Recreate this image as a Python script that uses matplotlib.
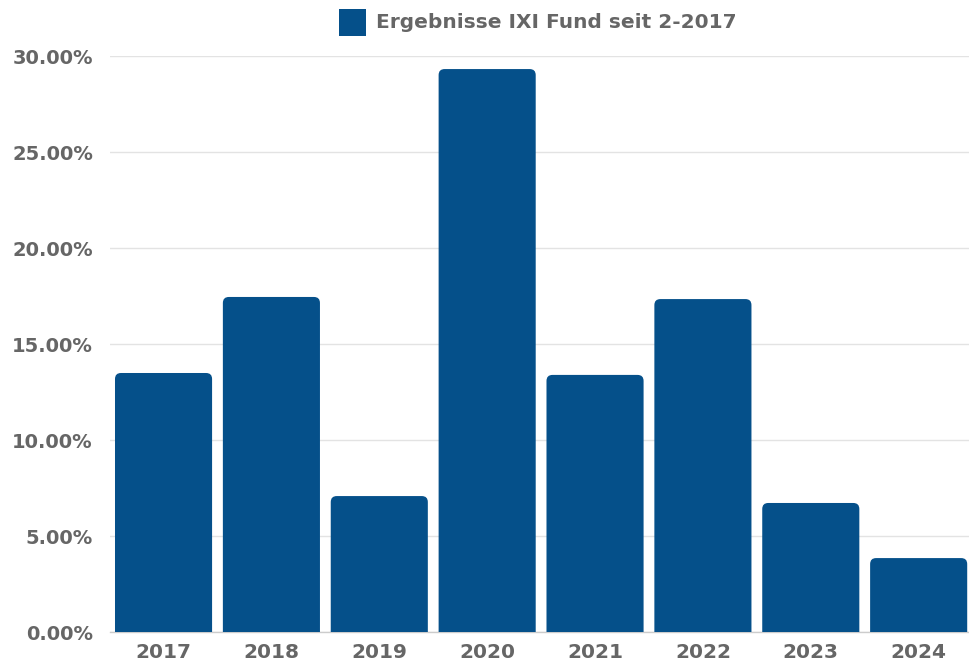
import matplotlib
matplotlib.use("Agg")
import matplotlib.pyplot as plt
from matplotlib.patches import FancyBboxPatch, Rectangle

# Data
years = ["2017", "2018", "2019", "2020", "2021", "2022", "2023", "2024"]
returns = [13.49, 17.45, 7.08, 29.32, 13.39, 17.34, 6.72, 3.85]
yticks = [0, 5, 10, 15, 20, 25, 30]
legend_label = "Ergebnisse IXI Fund seit 2-2017"

bar_color = "#05508a"
text_color = "#666666"
grid_color = "#e3e3e3"

plt.rcParams['font.family'] = ['DejaVu Sans']

fig = plt.figure(figsize=(9.7, 6.66), dpi=100)
ax_w = 863
ax = fig.add_axes([109.6 / 970, 34 / 666, ax_w / 970, 576 / 666])

ax.set_xlim(-0.5, len(years) - 0.5)
ax.set_ylim(0, 30)

# bars with rounded top corners (bottom pushed below the axis and clipped)
bar_w = 0.9
px_x = ax_w / len(years)     # pixels per x unit
px_y = 576 / 30              # pixels per y unit
r = 6 / px_x
for i, val in enumerate(returns):
    patch = FancyBboxPatch((i - bar_w / 2 + r, -2 + r * px_x / px_y),
                           bar_w - 2 * r, val + 2 - 2 * r * px_x / px_y,
                           boxstyle=f"round,pad={r},rounding_size={r}",
                           mutation_aspect=px_x / px_y,
                           facecolor=bar_color, edgecolor="none", zorder=3)
    patch.set_clip_path(ax.patch)
    ax.add_patch(patch)

ax.set_yticks(yticks)
ax.set_yticklabels([f"{t:.2f}%" for t in yticks])
ax.set_xticks(range(len(years)))
ax.set_xticklabels(years)

ax.grid(axis='y', color=grid_color, linewidth=1, zorder=0)
ax.set_axisbelow(True)
for s in ["top", "right", "left"]:
    ax.spines[s].set_visible(False)
ax.spines["bottom"].set_color("#cccccc")
ax.spines["bottom"].set_linewidth(1)
ax.tick_params(axis='x', length=0, colors=text_color, labelsize=14.5, pad=8)
ax.tick_params(axis='y', length=0, colors=text_color, labelsize=14, pad=12)
for lab in ax.get_xticklabels() + ax.get_yticklabels():
    lab.set_fontweight('bold')

# legend at the top
fig.patches.append(Rectangle((339 / 970, 1 - 36 / 666), 27 / 970, 27 / 666,
                             transform=fig.transFigure, facecolor=bar_color,
                             edgecolor="none"))
fig.text(376 / 970, 1 - 22 / 666, legend_label, color=text_color,
         fontsize=14.5, fontweight='bold', va='center', ha='left')

fig.savefig("out.png", dpi=100)
